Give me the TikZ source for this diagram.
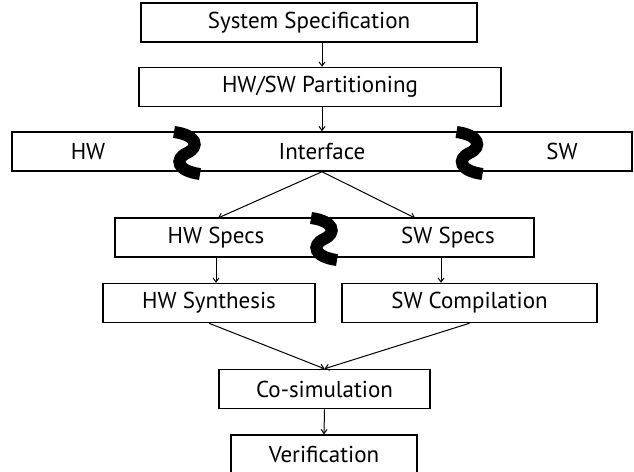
\documentclass[tikz,border=0pt]{standalone}
\usepackage{fontspec}
\setmainfont{PT Sans}
\usetikzlibrary{arrows.meta}

\begin{document}
\begin{tikzpicture}[x=1pt,y=-1pt,
    every node/.style={inner sep=0pt, font=\fontsize{23}{27}\selectfont},
    box/.style={draw, line width=1.5pt, minimum height=39pt},
    flow/.style={-{Straight Barb[length=4pt,width=6pt]}, line width=1pt},
    squig/.style={line width=12pt}]
\def\wave{(-13,-21) .. controls (10,-18) and (13,-6) .. (0,0) .. controls (-13,6) and (-10,18) .. (13,21)}

\useasboundingbox (0,0) rectangle (634,471);

\node[box, minimum width=336pt] (sys) at (309,22.5) {System Specification};
\node[box, minimum width=362pt] (part) at (320,87) {HW/SW Partitioning};

\node[box, minimum width=620pt] (iface) at (322,151.5) {Interface};
\node (hw) at (88,151.5) {HW};
\node (sw) at (562,151.5) {SW};

\node[box, minimum width=419pt] (specs) at (324.5,237.5) {};
\node (hwspecs) at (216,237.5) {HW Specs};
\node (swspecs) at (448,237.5) {SW Specs};

\node[box, minimum width=212pt] (hwsyn) at (209,303) {HW Synthesis};
\node[box, minimum width=255pt] (swcomp) at (469.5,303) {SW Compilation};
\node[box, minimum width=211pt] (cosim) at (324.5,389) {Co-simulation};
\node[box, minimum width=186pt] (verif) at (324,454.5) {Verification};

\coordinate (hwin) at (218,218);
\coordinate (swin) at (415,218);
\coordinate (swdown) at (441,0);

\draw[flow] (sys.south -| iface) -- (part.north -| iface);
\draw[flow] (part.south -| iface) -- (iface.north);
\draw[flow] (iface.south) -- (hwin);
\draw[flow] (iface.south) -- (swin);
\draw[flow] (specs.south -| hwspecs) -- (hwsyn.north -| hwspecs);
\draw[flow] (specs.south -| swdown) -- (swcomp.north -| swdown);
\draw[flow] (hwsyn.south) -- (cosim.north);
\draw[flow] (swcomp.south) -- (cosim.north);
\draw[flow] (cosim.south) -- (verif.north);

% the breaks between the parts
\draw[squig, shift={(187,153)}] \wave;
\draw[squig, shift={(469.5,153)}] \wave;
\draw[squig, shift={(324,239)}] \wave;
\end{tikzpicture}
\end{document}
